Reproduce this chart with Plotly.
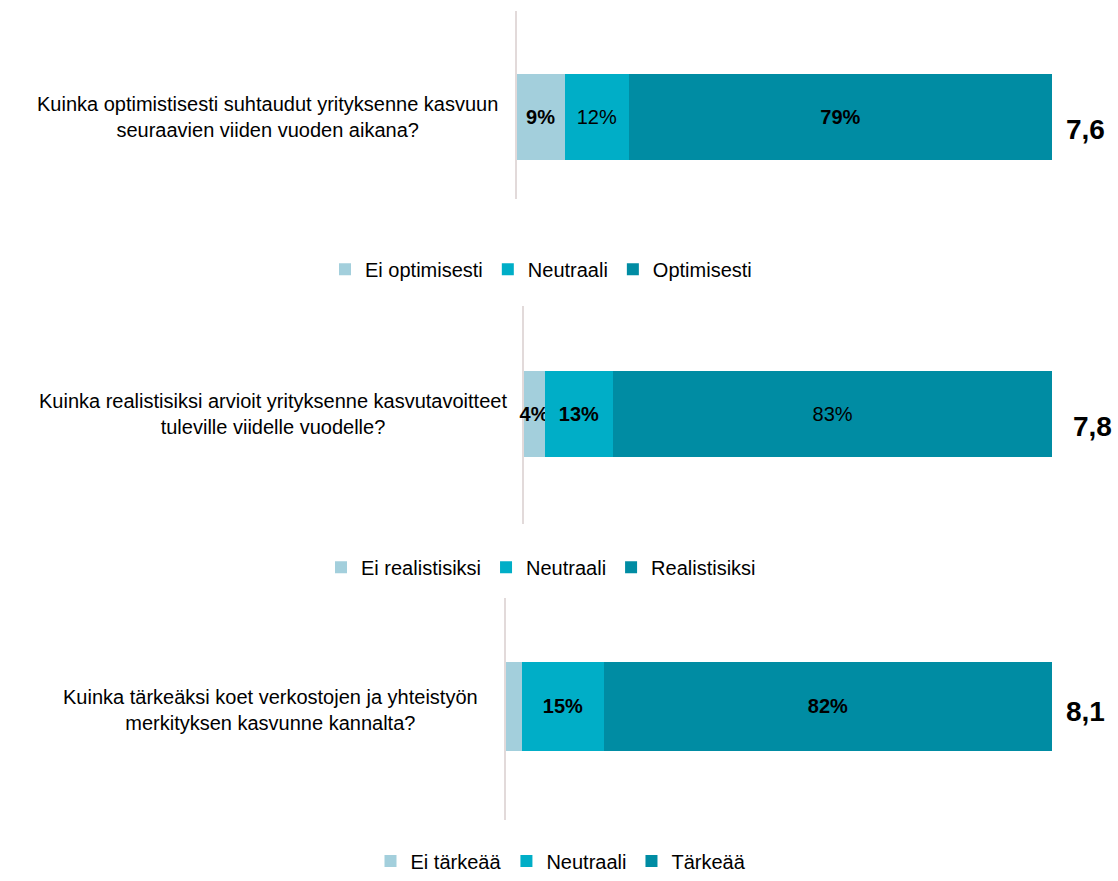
import plotly.graph_objects as go

W, H = 1118, 881

questions = [
    "Kuinka optimistisesti suhtaudut yrityksenne kasvuun<br>seuraavien viiden vuoden aikana?",
    "Kuinka realistisiksi arvioit yrityksenne kasvutavoitteet<br>tuleville viidelle vuodelle?",
    "Kuinka tärkeäksi koet verkostojen ja yhteistyön<br>merkityksen kasvunne kannalta?",
]
series_names = [
    ["Ei optimisesti", "Neutraali", "Optimisesti"],
    ["Ei realistisiksi", "Neutraali", "Realistisiksi"],
    ["Ei tärkeää", "Neutraali", "Tärkeää"],
]
shares = [
    [9, 12, 79],
    [4, 13, 83],
    [3, 15, 82],
]
# which segment labels are printed in bold, and which are shown at all
label_bold = [
    [True, False, True],
    [True, True, False],
    [False, True, True],
]
label_shown = [
    [True, True, True],
    [True, True, True],
    [False, True, True],
]
scores = ["7,6", "7,8", "8,1"]

colors = ["#A3CFDC", "#00AEC7", "#008CA3"]
FONT = "Arial, Liberation Sans, sans-serif"

# panel geometry in pixels (left of axis, top/bottom of axis line, y-range)
panel_left = [516.5, 523.5, 505.5]
panel_right = 1052
panel_top = [11, 309, 604]
panel_bottom = [201, 529, 828]
panel_yrange = [[-0.95, 1.234], [-1.27, 1.259], [-1.27, 1.219]]
question_pos = [(267, 118), (273, 418), (270, 717)]
score_pos = [(1085, 131), (1092, 431), (1085, 719)]
legend_pos = [(541, 272), (541, 573), (561, 870)]


def fy(px):
    return 1 - px / H


fig = go.Figure()
layout = {}
annotations = []

for p in range(3):
    sfx = "" if p == 0 else str(p + 1)
    legend_id = "legend" + sfx
    for k in range(3):
        v = shares[p][k]
        if label_shown[p][k]:
            t = f"{v}%"
            if label_bold[p][k]:
                t = f"<b>{t}</b>"
        else:
            t = ""
        fig.add_trace(go.Bar(
            x=[v], y=[0], orientation="h", width=1,
            name=series_names[p][k],
            marker=dict(color=colors[k], line=dict(width=0)),
            text=[t], textposition="inside", insidetextanchor="middle",
            textangle=0, constraintext="none", cliponaxis=False,
            textfont=dict(family=FONT, size=20, color="#000000"),
            xaxis="x" + sfx, yaxis="y" + sfx,
            legend=legend_id, hoverinfo="skip",
        ))
    layout["xaxis" + sfx] = dict(
        domain=[panel_left[p] / W, panel_right / W], range=[0, 100],
        visible=False, fixedrange=True, anchor="y" + sfx,
    )
    layout["yaxis" + sfx] = dict(
        domain=[fy(panel_bottom[p]), fy(panel_top[p])],
        range=panel_yrange[p], showticklabels=False, ticks="",
        showgrid=False, zeroline=False, showline=True,
        linecolor="#E2DADA", linewidth=2, anchor="x" + sfx,
        layer="below traces",
    )
    layout[legend_id] = dict(
        orientation="h", x=legend_pos[p][0] / W, y=fy(legend_pos[p][1]),
        xanchor="center", yanchor="middle", bgcolor="rgba(0,0,0,0)",
        font=dict(family=FONT, size=20, color="#000000"),
        traceorder="normal", itemsizing="constant",
    )
    annotations.append(dict(
        text=questions[p], x=question_pos[p][0] / W, y=fy(question_pos[p][1]),
        xref="paper", yref="paper", showarrow=False, align="center",
        xanchor="center", yanchor="middle",
        font=dict(family=FONT, size=20, color="#000000"),
    ))
    annotations.append(dict(
        text=f"<b>{scores[p]}</b>", x=score_pos[p][0] / W, y=fy(score_pos[p][1]),
        xref="paper", yref="paper", showarrow=False,
        xanchor="center", yanchor="middle",
        font=dict(family=FONT, size=28, color="#000000"),
    ))

fig.update_layout(
    width=W, height=H,
    margin=dict(l=0, r=0, t=0, b=0),
    paper_bgcolor="white", plot_bgcolor="white",
    barmode="stack", showlegend=True,
    uniformtext=dict(minsize=20, mode="show"),
    annotations=annotations,
    **layout,
)

fig.write_html("out.html")
